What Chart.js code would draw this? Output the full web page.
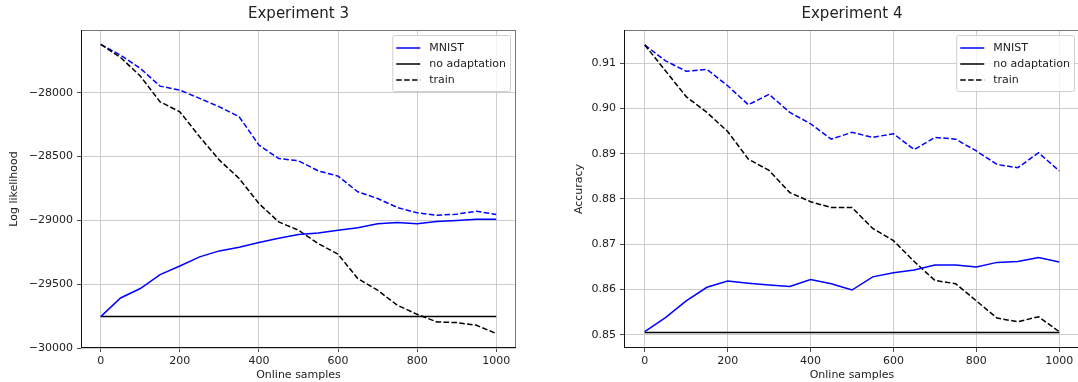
<!DOCTYPE html>
<html>
<head>
<meta charset="utf-8">
<script src="https://cdn.jsdelivr.net/npm/chart.js@4.4.1/dist/chart.umd.min.js"></script>
<style>
  html, body { margin: 0; padding: 0; background: #fff; overflow: hidden; }
  #wrap { position: relative; width: 1078px; height: 382px; overflow: hidden; }
  canvas { position: absolute; top: 0; }
</style>
</head>
<body>
<div id="wrap">
  <canvas id="exp3" width="540" height="382" style="left:0px"></canvas>
  <canvas id="exp4" width="545" height="382" style="left:540px"></canvas>
</div>
<script>
var samples = [0, 50, 100, 150, 200, 250, 300, 350, 400, 450, 500, 550, 600, 650, 700, 750, 800, 850, 900, 950, 1000];

// Experiment 3 - log likelihood
var exp3Mnist = [-29754, -29608, -29534, -29425, -29357, -29286, -29239, -29210, -29174, -29140, -29111,
                 -29098, -29077, -29058, -29027, -29017, -29027, -29009, -29001, -28991, -28991];
var exp3MnistTrain = [-27621, -27705, -27809, -27948, -27979, -28044, -28110, -28188, -28410, -28515, -28533,
                      -28612, -28653, -28776, -28829, -28899, -28941, -28960, -28951, -28928, -28954];
var exp3NoAdapt = [-29754, -29754, -29754, -29754, -29754, -29754, -29754, -29754, -29754, -29754, -29754,
                   -29754, -29754, -29754, -29754, -29754, -29754, -29754, -29754, -29754, -29754];
var exp3Train = [-27621, -27723, -27869, -28071, -28149, -28345, -28528, -28672, -28868, -29012, -29077,
                 -29182, -29265, -29456, -29547, -29665, -29736, -29796, -29801, -29822, -29887];
var exp3Ticks = [-30000, -29500, -29000, -28500, -28000];

// Experiment 4 - accuracy
var exp4Mnist = [0.8507, 0.8538, 0.8575, 0.8605, 0.8619, 0.8614, 0.8610, 0.8607, 0.8622, 0.8613, 0.8599,
                 0.8628, 0.8637, 0.8643, 0.8654, 0.8654, 0.8650, 0.8660, 0.8662, 0.8671, 0.8661];
var exp4MnistTrain = [0.9140, 0.9105, 0.9082, 0.9086, 0.9050, 0.9008, 0.9031, 0.8991, 0.8966, 0.8932, 0.8947,
                      0.8936, 0.8944, 0.8909, 0.8936, 0.8932, 0.8906, 0.8876, 0.8869, 0.8902, 0.8862];
var exp4NoAdapt = [0.8505, 0.8505, 0.8505, 0.8505, 0.8505, 0.8505, 0.8505, 0.8505, 0.8505, 0.8505, 0.8505,
                   0.8505, 0.8505, 0.8505, 0.8505, 0.8505, 0.8505, 0.8505, 0.8505, 0.8505, 0.8505];
var exp4Train = [0.9140, 0.9083, 0.9026, 0.8991, 0.8949, 0.8888, 0.8863, 0.8814, 0.8794, 0.8781, 0.8781,
                 0.8735, 0.8708, 0.8662, 0.8620, 0.8613, 0.8575, 0.8537, 0.8529, 0.8540, 0.8507];
var exp4Ticks = [0.85, 0.86, 0.87, 0.88, 0.89, 0.90, 0.91];

var xTicks = [0, 200, 400, 600, 800, 1000];

Chart.defaults.font.family = "'DejaVu Sans', sans-serif";
Chart.defaults.color = '#222';

function pts(ys) {
    return samples.map(function (x, i) { return { x: x, y: ys[i] }; });
}

function fmtMinus(v) {
    return v < 0 ? '\u2212' + Math.abs(v) : String(v);
}

// matplotlib style frame round the axes
var framePlugin = {
    id: 'frame',
    afterDatasetsDraw: function (chart) {
        var a = chart.chartArea, ctx = chart.ctx;
        ctx.save();
        ctx.lineWidth = 1;
        ctx.strokeStyle = '#777';
        ctx.beginPath();
        ctx.moveTo(a.left, a.top + 0.5); ctx.lineTo(a.right, a.top + 0.5);
        ctx.moveTo(a.right - 0.5, a.top); ctx.lineTo(a.right - 0.5, a.bottom);
        ctx.stroke();
        ctx.strokeStyle = '#111';
        ctx.beginPath();
        ctx.moveTo(a.left + 0.5, a.top); ctx.lineTo(a.left + 0.5, a.bottom);
        ctx.moveTo(a.left, a.bottom - 0.5); ctx.lineTo(a.right, a.bottom - 0.5);
        ctx.stroke();
        ctx.restore();
    }
};

// legend box in the upper right of the plot area
var legendPlugin = {
    id: 'boxLegend',
    afterDatasetsDraw: function (chart) {
        var a = chart.chartArea, ctx = chart.ctx;
        var items = chart.data.datasets.filter(function (d) { return d.inLegend; });
        ctx.save();
        ctx.font = "11px 'DejaVu Sans', sans-serif";
        var tw = 0;
        items.forEach(function (d) { tw = Math.max(tw, ctx.measureText(d.label).width); });
        var w = 37 + tw + 4, h = 56;
        var right = a.right - 6, top = a.top + 5, left = right - w;
        ctx.fillStyle = 'rgba(255,255,255,0.8)';
        ctx.strokeStyle = '#d0d0d0';
        ctx.lineWidth = 1;
        ctx.beginPath();
        ctx.roundRect(left + 0.5, top + 0.5, w, h, 2);
        ctx.fill();
        ctx.stroke();
        items.forEach(function (d, i) {
            var y = top + 13 + i * 16;
            ctx.strokeStyle = d.borderColor;
            ctx.lineWidth = 1.5;
            ctx.setLineDash(d.borderDash || []);
            ctx.beginPath();
            ctx.moveTo(left + 4, y);
            ctx.lineTo(left + 28, y);
            ctx.stroke();
            ctx.setLineDash([]);
            ctx.fillStyle = '#222';
            ctx.textBaseline = 'middle';
            ctx.fillText(d.label, left + 37, y);
        });
        ctx.restore();
    }
};

function makeChart(id, cfg) {
    var grid = { color: '#c0c0c0', lineWidth: 0.8, tickColor: '#222', tickLength: 4 };
    return new Chart(document.getElementById(id), {
        type: 'line',
        data: {
            datasets: [
                { label: 'MNIST', data: pts(cfg.mnist), borderColor: '#0000ff', inLegend: true },
                { label: 'no adaptation', data: pts(cfg.noAdapt), borderColor: '#000000', inLegend: true },
                { label: 'train', data: pts(cfg.train), borderColor: '#000000', borderDash: [5.5, 2.4], inLegend: true },
                { label: 'MNIST train', data: pts(cfg.mnistTrain), borderColor: '#0000ff', borderDash: [5.5, 2.4] }
            ]
        },
        options: {
            responsive: false,
            animation: false,
            devicePixelRatio: 1,
            elements: {
                point: { radius: 0 },
                line: { borderWidth: 1.5, tension: 0, fill: false }
            },
            layout: { padding: { left: 0, right: cfg.padRight, top: 0, bottom: 0 } },
            plugins: {
                legend: { display: false },
                tooltip: { enabled: false },
                title: {
                    display: true,
                    text: cfg.title,
                    fullSize: false,
                    color: '#222',
                    font: { size: 15, weight: 'normal' },
                    padding: { top: 5, bottom: 7 }
                }
            },
            scales: {
                x: {
                    type: 'linear',
                    min: -50,
                    max: 1050,
                    grid: grid,
                    border: { display: false },
                    afterBuildTicks: function (s) { s.ticks = xTicks.map(function (v) { return { value: v }; }); },
                    ticks: { font: { size: 11 }, padding: 3, maxRotation: 0, callback: function (v) { return String(v); } },
                    title: { display: true, text: 'Online samples', font: { size: 11 }, padding: { top: 0, bottom: 0 } },
                    afterFit: function (s) { s.height = 34; }
                },
                y: {
                    type: 'linear',
                    min: cfg.yMin,
                    max: cfg.yMax,
                    grid: grid,
                    border: { display: false },
                    afterBuildTicks: function (s) { s.ticks = cfg.yTicks.map(function (v) { return { value: v }; }); },
                    ticks: { font: { size: 11 }, padding: 4, callback: cfg.yFmt },
                    title: { display: true, text: cfg.yLabel, font: { size: 11 }, padding: { top: cfg.yTitlePad, bottom: 0 } },
                    afterFit: function (s) { s.width = cfg.yWidth; }
                }
            }
        },
        plugins: [framePlugin, legendPlugin]
    });
}

makeChart('exp3', {
    title: 'Experiment 3',
    mnist: exp3Mnist, mnistTrain: exp3MnistTrain, noAdapt: exp3NoAdapt, train: exp3Train,
    yMin: -30000, yMax: -27508, yTicks: exp3Ticks,
    yFmt: function (v) { return fmtMinus(v); },
    yLabel: 'Log likelihood', yTitlePad: 8, yWidth: 81, padRight: 24
});

makeChart('exp4', {
    title: 'Experiment 4',
    mnist: exp4Mnist, mnistTrain: exp4MnistTrain, noAdapt: exp4NoAdapt, train: exp4Train,
    yMin: 0.8471, yMax: 0.9173, yTicks: exp4Ticks,
    yFmt: function (v) { return v.toFixed(2); },
    yLabel: 'Accuracy', yTitlePad: 33, yWidth: 84, padRight: 5
});
</script>
</body>
</html>
